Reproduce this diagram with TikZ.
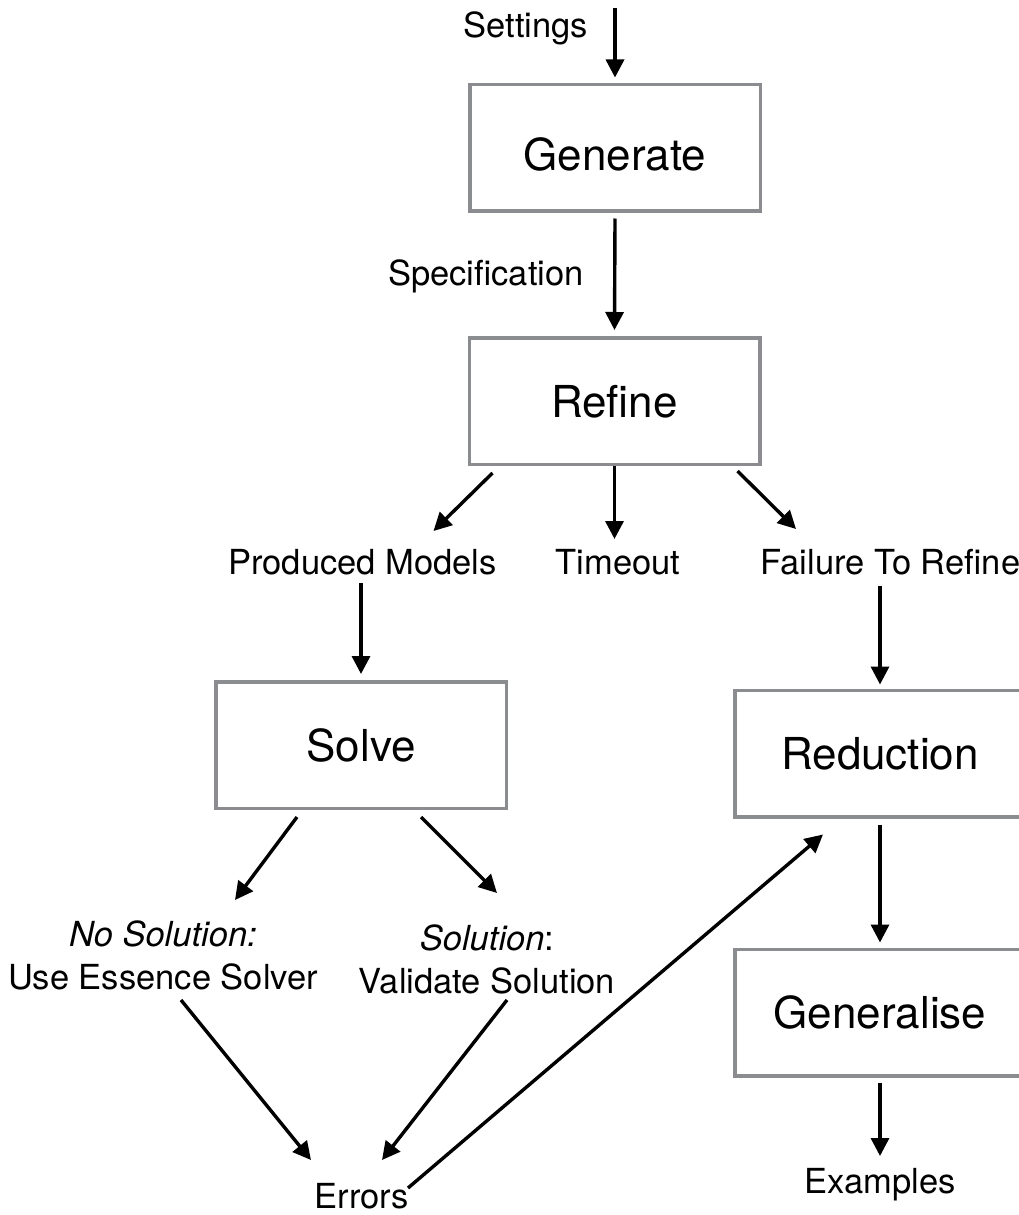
\documentclass[tikz,border=0pt]{standalone}
\usepackage{fontspec}
\setmainfont{TeX Gyre Heros}
\usetikzlibrary{arrows.meta,calc}
\definecolor{boxgray}{RGB}{138,140,143}
\begin{document}
\begin{tikzpicture}[x=1pt,y=-1pt,
  stage/.style={draw=boxgray,line width=3.5pt,minimum width=290.5pt,minimum height=126.5pt,
    inner sep=0pt,font=\fontsize{44}{50}\selectfont,text height=32pt,text depth=0pt},
  lbl/.style={inner sep=0pt,anchor=base,font=\fontsize{34.5}{43}\selectfont,align=center},
  arr/.style={line width=3.4pt,-{Triangle[length=18pt,width=18pt]}}]
\useasboundingbox (0,0) rectangle (1019,1215);
\clip (0,0) rectangle (1019,1215);

% process stages
\node[stage,text height=45pt] (gen) at (615,147.5) {Generate};
\node[stage] (ref) at (614.5,401) {Refine};
\node[stage] (solve) at (361,745) {Solve};
\node[stage] (red) at (880,753.5) {Reduction};
\node[stage] (genl) at (880,1012.5) {Generalise};

% outcome labels (base = baseline of the last line)
\node[lbl] (set) at (526,38) {Settings};
\node[lbl] (spec) at (486,285) {Specification};
\node[lbl] (pm) at (362.5,574) {Produced Models};
\node[lbl] (to) at (618,574) {Timeout};
\node[lbl] (ftr) at (890.5,574) {Failure To Refine};
\node[lbl] (ns) at (163,989) {{\itshape No Solution:}\\Use Essence Solver};
\node[lbl] (sol) at (487,993) {\textit{Solution}:\\Validate Solution};
\node[lbl] (err) at (361.5,1208) {Errors};
\node[lbl] (ex) at (880,1193) {Examples};
\coordinate (src) at (615,8);

% flow
\draw[arr] (src) -- ([yshift=5pt]gen.north);
\draw[arr] ([yshift=-6pt]gen.south) -- ([yshift=6pt]ref.north);
\draw[arr] ($(ref.south west)+(25,7)$) -- ($(pm.base)+(71,-43)$);
\draw[arr] (ref.south) -- ++(0,73);
\draw[arr] ($(ref.south east)+(-24,5)$) -- ($(ftr.base)+(-94.5,-45)$);
\draw[arr] ($(pm.base)+(-1.5,9)$) -- ([yshift=6pt]solve.north);
\draw[arr] ($(ftr.base)+(-10.5,12)$) -- ([yshift=4pt]red.north);
\draw[arr] ($(solve.south)+(-64,7)$) -- ($(ns.base)+(72,-89)$);
\draw[arr] ($(solve.south)+(60,7)$) -- ($(sol.base)+(10,-100)$);
\draw[arr] ($(ns.base)+(18,11)$) -- ($(err.base)+(-50.5,-48)$);
\draw[arr] ($(sol.base)+(20,7)$) -- ($(err.base)+(20.5,-48)$);
\draw[arr] ($(err.base)+(46.5,-20)$) -- ($(red.south west)+(90,16)$);
\draw[arr] ([yshift=-6pt]red.south) -- ([yshift=5pt]genl.north);
\draw[arr] ([yshift=-5pt]genl.south) -- ($(ex.base)+(0,-37)$);
\end{tikzpicture}
\end{document}
